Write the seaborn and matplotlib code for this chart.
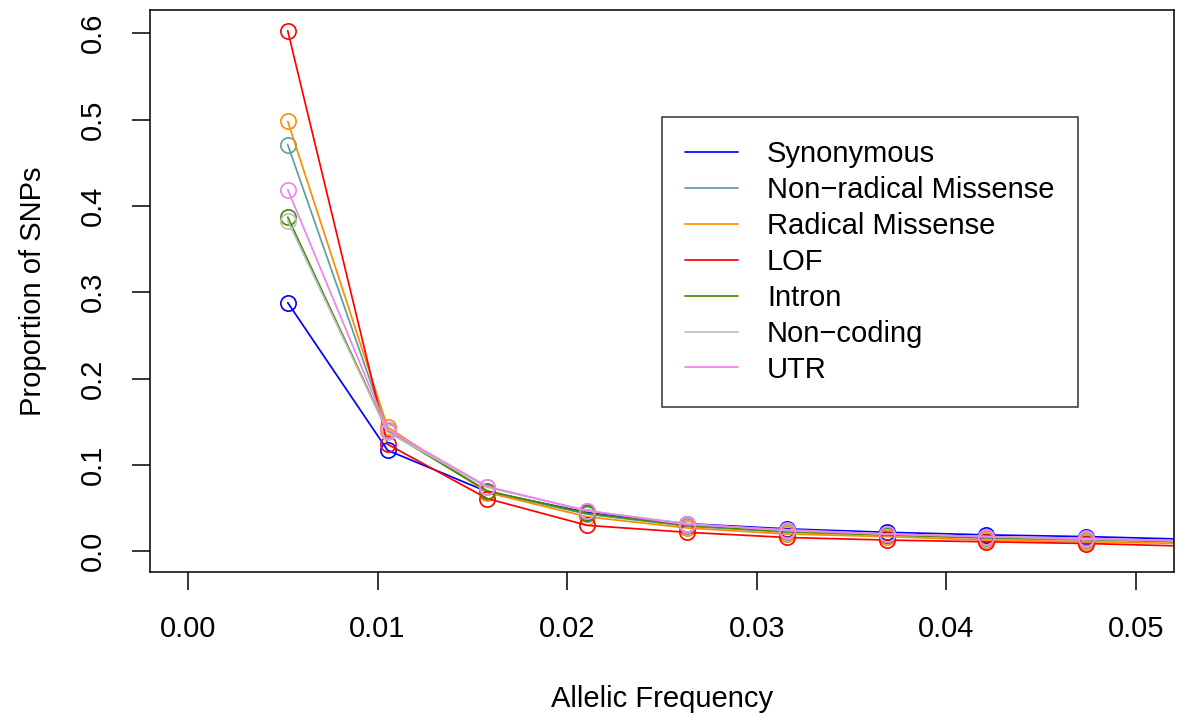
import numpy as np
import pandas as pd
import seaborn as sns
from matplotlib import pyplot as plt
from matplotlib.lines import Line2D

# allele count bins out of 190 chromosomes
freq = [k / 190 for k in range(1, 11)]

synonymous = [0.288, 0.117, 0.069, 0.045, 0.032, 0.026, 0.022, 0.019, 0.017, 0.014]
nonradical = [0.471, 0.140, 0.069, 0.043, 0.029, 0.022, 0.019, 0.015, 0.013, 0.011]
radical = [0.498, 0.144, 0.068, 0.040, 0.027, 0.020, 0.017, 0.013, 0.011, 0.009]
lof = [0.603, 0.124, 0.061, 0.030, 0.022, 0.016, 0.013, 0.011, 0.009, 0.006]
intron = [0.387, 0.139, 0.070, 0.044, 0.030, 0.023, 0.019, 0.016, 0.014, 0.011]
noncoding = [0.383, 0.138, 0.074, 0.047, 0.032, 0.024, 0.020, 0.017, 0.014, 0.012]
utr = [0.419, 0.141, 0.075, 0.047, 0.031, 0.025, 0.020, 0.017, 0.015, 0.012]

labels = ["Synonymous", "Non\u2212radical Missense", "Radical Missense", "LOF",
          "Intron", "Non\u2212coding", "UTR"]
colors = ["#0000FF", "#5F9EA0", "#FF8C00", "#FF0000", "#458B00", "#BEBEBE", "#EE82EE"]
series = [synonymous, nonradical, radical, lof, intron, noncoding, utr]

sns.set_style("white")
plt.rcParams['font.family'] = ['Liberation Sans', 'DejaVu Sans']
plt.rcParams['text.color'] = 'black'
plt.rcParams['axes.labelcolor'] = 'black'
plt.rcParams['xtick.color'] = 'black'
plt.rcParams['ytick.color'] = 'black'

fig = plt.figure(figsize=(11.79, 7.16), dpi=100)
ax = fig.add_axes([150 / 1179, 1 - 572 / 716, 1024 / 1179, 562 / 716])

for lab, vals, c in zip(labels, series, colors):
    d = pd.DataFrame({"freq": freq, "prop": vals})
    sns.lineplot(data=d, x="freq", y="prop", color=c, marker="o", fillstyle="none",
                 markersize=11, markeredgecolor=c, markeredgewidth=1.2,
                 linewidth=1.25, ax=ax)

ax.set_xlim(-0.002, 0.052)
ax.set_ylim(-0.024, 0.627)
ax.set_xticks([0.0, 0.01, 0.02, 0.03, 0.04, 0.05])
ax.set_xticklabels(["0.00", "0.01", "0.02", "0.03", "0.04", "0.05"])
ax.set_yticks([0.0, 0.1, 0.2, 0.3, 0.4, 0.5, 0.6])
ax.set_yticklabels(["0.0", "0.1", "0.2", "0.3", "0.4", "0.5", "0.6"], rotation=90, va="center")
ax.tick_params(axis="both", direction="out", length=13, width=1.1, labelsize=21,
               color="black", pad=18, bottom=True, left=True)
for s in ax.spines.values():
    s.set_visible(True)
    s.set_color("black")
    s.set_linewidth(1.1)

ax.set_xlabel("Allelic Frequency", fontsize=21, labelpad=30)
ax.set_ylabel("Proportion of SNPs", fontsize=21, labelpad=23)

handles = [Line2D([0], [0], color=c, lw=1.25) for c in colors]
leg = ax.legend(handles, labels, loc="upper left", bbox_to_anchor=(0.5, 0.8096),
                borderaxespad=0, frameon=True, fancybox=False, edgecolor="black",
                fontsize=21, handlelength=1.8, handletextpad=1.0, labelspacing=0.27,
                borderpad=0.8)
leg.get_frame().set_linewidth(1.1)

plt.savefig("out.png", dpi=100)
